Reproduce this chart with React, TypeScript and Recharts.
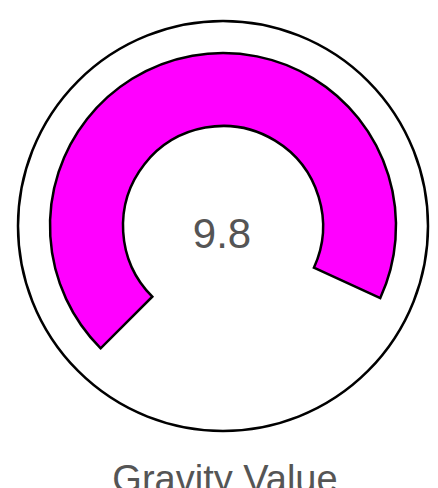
import React from 'react';
import { RadialBarChart, RadialBar, PolarAngleAxis, PolarGrid } from 'recharts';

const gaugeNames = ['Gravity Value'];
const gaugeValues = [9.8];
const gaugeMin = 0;
const gaugeMax = 10.6;

const data = gaugeNames.map((name, i) => ({ name, value: gaugeValues[i] }));

const App: React.FC = () => {
  return (
    <div style={{ position: 'absolute', left: 0, top: 0, width: 438, height: 488, overflow: 'hidden', background: '#fff' }}>
      <RadialBarChart
        width={438}
        height={488}
        cx={223}
        cy={226}
        innerRadius={100}
        outerRadius={173}
        startAngle={225}
        endAngle={-45}
        barCategoryGap={0}
        margin={{ top: 0, right: 0, bottom: 0, left: 0 }}
        data={data}
      >
        <PolarGrid gridType="circle" radialLines={false} polarRadius={[205]} stroke="#000" strokeWidth={2.5} />
        <PolarAngleAxis type="number" domain={[gaugeMin, gaugeMax]} tick={false} axisLine={false} />
        <RadialBar dataKey="value" fill="#ff00ff" stroke="#000" strokeWidth={2.5} isAnimationActive={false} />
      </RadialBarChart>
      <svg width={438} height={488} style={{ position: 'absolute', left: 0, top: 0, pointerEvents: 'none' }}>
        <text x={222} y={248} textAnchor="middle" fontFamily="Liberation Sans, Arial, sans-serif" fontSize={42} fill="#555">
          {gaugeValues[0]}
        </text>
        <text x={225} y={492} textAnchor="middle" fontFamily="Liberation Sans, Arial, sans-serif" fontSize={38} fill="#555">
          {gaugeNames[0]}
        </text>
      </svg>
    </div>
  );
};

export default App;
